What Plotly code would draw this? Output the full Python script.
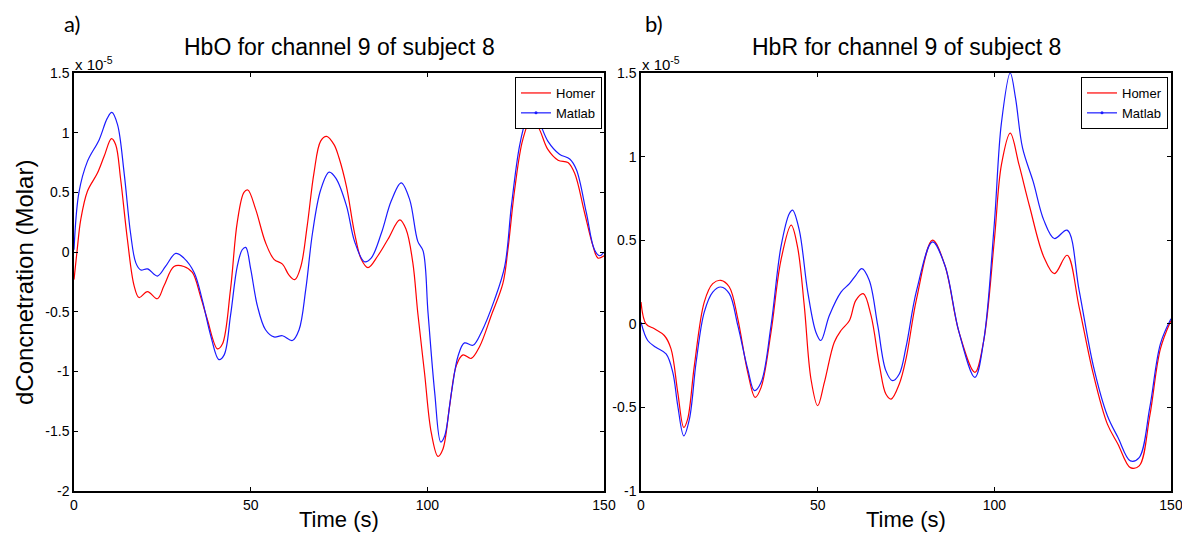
import plotly.graph_objects as go

# ---------------- data (values in units of 1e-5 Molar) ----------------
t_hbo_homer = [0, 0.9, 1.9, 3.8, 6.6, 8.5, 10.6, 11.8, 13.2, 15.1, 17, 18.4, 20.8, 23.6, 25.5, 28.3,
               31.1, 33.5, 35.8, 37.7, 40.6, 42, 44.3, 46.2, 48.1, 49.2, 51.4, 54.2, 56.6, 59, 60.8,
               62.5, 64.2, 66, 67.9, 69.8, 71.5, 73.6, 75, 77.1, 79.4, 81.3, 83.2, 86, 88.9, 92.2,
               94, 95.9, 97.3, 99.2, 101.1, 103, 104.4, 106.3, 108.2, 110.1, 112.4, 114.8, 118.1,
               121.4, 122.8, 124.7, 127, 129.2, 131.3, 134.1, 137, 139.8, 141.7, 144.5, 146.9,
               148.3, 150]
hbo_homer = [-0.23, 0.02, 0.27, 0.51, 0.66, 0.80, 0.95, 0.90, 0.61, 0.11, -0.28, -0.38, -0.33, -0.39,
             -0.28, -0.12, -0.12, -0.17, -0.37, -0.56, -0.81, -0.77, -0.31, 0.25, 0.50, 0.52, 0.36,
             0.08, -0.06, -0.10, -0.19, -0.23, -0.12, 0.22, 0.66, 0.93, 0.97, 0.90, 0.79, 0.55, 0.16,
             -0.06, -0.13, -0.03, 0.11, 0.27, 0.19, -0.09, -0.51, -1.01, -1.51, -1.71, -1.65, -1.29,
             -0.95, -0.86, -0.89, -0.79, -0.53, -0.26, 0.02, 0.52, 0.94, 1.10, 1.05, 0.86, 0.77,
             0.75, 0.66, 0.33, 0.05, -0.05, -0.03]

t_hbo_matlab = [0, 1.4, 3.8, 7.1, 9.4, 10.7, 12.3, 14.2, 16, 17.5, 18.9, 20.8, 23.6, 25.9, 28.8, 31.1,
                34, 36.3, 38.7, 41, 42.5, 44.3, 46.2, 47.6, 48.6, 50, 51.9, 54.2, 56.6, 59, 61.8,
                63.7, 65.6, 67.5, 69.8, 72.2, 74.1, 77.1, 79.4, 82.2, 84.1, 87, 89.8, 92.6, 95,
                97.3, 98.8, 100.2, 102.1, 103.8, 104.9, 106.8, 108.7, 110.5, 112.9, 115.3, 119,
                121.9, 123.8, 126.1, 128, 129.4, 131.3, 134.1, 137.4, 140.3, 142.2, 145, 147.3,
                148.8, 150]
hbo_matlab = [0.02, 0.50, 0.76, 0.94, 1.12, 1.17, 1.07, 0.66, 0.16, -0.09, -0.15, -0.14, -0.20, -0.12,
              -0.01, -0.05, -0.17, -0.40, -0.70, -0.90, -0.86, -0.53, -0.12, 0.02, 0.04, -0.14, -0.45,
              -0.65, -0.71, -0.70, -0.74, -0.65, -0.31, 0.16, 0.52, 0.67, 0.62, 0.39, 0.09, -0.08,
              -0.05, 0.16, 0.43, 0.58, 0.44, 0.09, 0.01, -0.51, -1.18, -1.59, -1.54, -1.18, -0.87,
              -0.76, -0.78, -0.67, -0.40, -0.12, 0.39, 0.89, 1.11, 1.17, 1.11, 0.93, 0.82, 0.78,
              0.69, 0.33, 0.02, -0.03, 0.00]

t_hbr_homer = [0, 1.4, 3.8, 6.6, 8.5, 10.4, 12.1, 13.2, 15.1, 17.9, 20.3, 22.6, 25, 27.4, 30.2, 32.3,
               34, 36.8, 39.6, 42.5, 44.3, 46.2, 48.1, 50, 51.9, 54.7, 56.6, 59, 60.8, 62.9, 65.1,
               67.5, 69.3, 70.8, 73.1, 75, 78, 82.5, 86, 90, 94.5, 97, 100, 102, 104.5, 107, 110,
               114, 117, 120.6, 124, 128, 132, 135, 138.5, 141, 144, 147, 150]
hbr_homer = [0.13, 0.0, -0.03, -0.07, -0.15, -0.41, -0.62, -0.57, -0.25, 0.13, 0.24, 0.26, 0.22, 0.03,
             -0.29, -0.44, -0.38, -0.05, 0.38, 0.59, 0.46, 0.11, -0.33, -0.49, -0.35, -0.11, -0.04,
             0.02, 0.14, 0.18, 0.05, -0.25, -0.42, -0.45, -0.36, -0.21, 0.15, 0.50, 0.35, -0.05,
             -0.29, -0.10, 0.50, 0.95, 1.14, 0.95, 0.70, 0.40, 0.30, 0.41, 0.10, -0.30, -0.60,
             -0.72, -0.86, -0.85, -0.55, -0.15, 0.02]

t_hbr_matlab = [0, 1.9, 4.2, 7.1, 9, 10.4, 12.1, 13.7, 15.6, 17.9, 20.3, 22.6, 25, 27.4, 30.2, 32.1,
                34, 36.8, 39.6, 42, 42.9, 44.8, 47.2, 49.5, 50.9, 53.3, 56.6, 59, 60.8, 62.5, 64.6,
                67, 69.3, 71.2, 73.1, 75, 78, 82.5, 86, 90, 94.5, 97, 100, 102, 104.5, 106, 108,
                111, 114, 117, 120.6, 124, 128, 132, 135, 138.5, 141, 144, 147, 150]
hbr_matlab = [0.01, -0.10, -0.14, -0.18, -0.29, -0.49, -0.67, -0.57, -0.23, 0.07, 0.19, 0.22, 0.18,
              -0.01, -0.27, -0.40, -0.35, -0.01, 0.46, 0.66, 0.68, 0.56, 0.19, -0.05, -0.10, 0.05,
              0.19, 0.24, 0.29, 0.33, 0.26, -0.01, -0.28, -0.34, -0.30, -0.14, 0.20, 0.49, 0.35,
              -0.05, -0.32, -0.10, 0.60, 1.20, 1.50, 1.35, 1.05, 0.85, 0.62, 0.51, 0.56, 0.20,
              -0.25, -0.55, -0.68, -0.82, -0.80, -0.50, -0.12, 0.03]

x_ticks = [0, 50, 100, 150]
x_ticklabels = ["0", "50", "100", "150"]
hbo_yticks = [-2, -1.5, -1, -0.5, 0, 0.5, 1, 1.5]
hbo_yticklabels = ["-2", "-1.5", "-1", "-0.5", "0", "0.5", "1", "1.5"]
hbr_yticks = [-1, -0.5, 0, 0.5, 1, 1.5]
hbr_yticklabels = ["-1", "-0.5", "0", "0.5", "1", "1.5"]

series_names = ["Homer", "Matlab"]
titles = ["HbO for channel 9 of subject 8", "HbR for channel 9 of subject 8"]
panel_labels = ["a)", "b)"]

# ---------------- figure ----------------
# The page body keeps its default 8px margin, so the figure is drawn 8px in
# from the top-left of the window; size it so it ends at the window edge.
OFF = 8
W, H = 1190 - OFF, 535 - OFF
FONT = "Liberation Sans, Arial, sans-serif"
RED = "#ff0000"
BLUE = "#1a1aff"


def px_x(p):
    """window pixel x -> paper fraction"""
    return (p - OFF) / W


def px_y(p):
    """window pixel y (from top) -> paper fraction"""
    return 1 - (p - OFF) / H


fig = go.Figure()

panels = [
    (t_hbo_homer, hbo_homer, t_hbo_matlab, hbo_matlab, "x", "y", "legend"),
    (t_hbr_homer, hbr_homer, t_hbr_matlab, hbr_matlab, "x2", "y2", "legend2"),
]
for th, vh, tm, vm, xa, ya, lg in panels:
    fig.add_trace(go.Scatter(x=th, y=vh, mode="lines", line=dict(color=RED, width=1.2, shape="spline", smoothing=1.0),
                             xaxis=xa, yaxis=ya, showlegend=False, hoverinfo="skip"))
    fig.add_trace(go.Scatter(x=tm, y=vm, mode="lines", line=dict(color=BLUE, width=1.2, shape="spline", smoothing=1.0),
                             xaxis=xa, yaxis=ya, showlegend=False, hoverinfo="skip"))
    # legend entries
    fig.add_trace(go.Scatter(x=[None], y=[None], mode="lines", name=series_names[0],
                             line=dict(color=RED, width=1.2), xaxis=xa, yaxis=ya, legend=lg))
    fig.add_trace(go.Scatter(x=[None], y=[None], mode="lines+markers", name=series_names[1],
                             line=dict(color=BLUE, width=1.2), marker=dict(color=BLUE, size=3),
                             xaxis=xa, yaxis=ya, legend=lg))

axis_common = dict(
    showline=True, linecolor="black", linewidth=1.5, mirror="allticks",
    ticks="inside", ticklen=4, tickcolor="black", tickwidth=1,
    showgrid=False, zeroline=False, automargin=False,
    tickfont=dict(family=FONT, size=14, color="black"),
)

legend_common = dict(xanchor="right", yanchor="top",
                     bordercolor="black", borderwidth=1, bgcolor="white",
                     font=dict(family=FONT, size=13, color="black"),
                     tracegroupgap=0, itemwidth=30)

y_top, y_bot = 73, 491
fig.update_layout(
    width=W, height=H,
    margin=dict(l=0, r=0, t=0, b=0, pad=0, autoexpand=False),
    paper_bgcolor="white", plot_bgcolor="white",
    xaxis=dict(domain=[px_x(74), px_x(604)], range=[0, 150], tickvals=x_ticks, ticktext=x_ticklabels,
               anchor="y", **axis_common),
    yaxis=dict(domain=[px_y(y_bot), px_y(y_top)], range=[-2, 1.5], tickvals=hbo_yticks,
               ticktext=hbo_yticklabels, anchor="x", **axis_common),
    xaxis2=dict(domain=[px_x(641), px_x(1171)], range=[0, 150], tickvals=x_ticks, ticktext=x_ticklabels,
                anchor="y2", **axis_common),
    yaxis2=dict(domain=[px_y(y_bot), px_y(y_top)], range=[-1, 1.5], tickvals=hbr_yticks,
                ticktext=hbr_yticklabels, anchor="x2", **axis_common),
    legend=dict(x=px_x(602), y=px_y(77), **legend_common),
    legend2=dict(x=px_x(1168), y=px_y(77), **legend_common),
    showlegend=True,
)

annotations = []
# titles
for cx, txt in [(339, titles[0]), (906, titles[1])]:
    annotations.append(dict(x=px_x(cx), y=px_y(47), xref="paper", yref="paper", text=txt, showarrow=False,
                            xanchor="center", yanchor="middle", font=dict(family=FONT, size=23, color="black")))
# panel labels
for lx, txt in [(62, panel_labels[0]), (643, panel_labels[1])]:
    annotations.append(dict(x=px_x(lx), y=px_y(8), xref="paper", yref="paper", text=txt, showarrow=False,
                            xanchor="left", yanchor="top", font=dict(family="Lato, Open Sans, sans-serif", size=22, color="black")))
# exponent labels
for ex in [73, 640]:
    annotations.append(dict(x=px_x(ex), y=px_y(63), xref="paper", yref="paper", text="x 10<sup>-5</sup>",
                            showarrow=False, xanchor="left", yanchor="middle",
                            font=dict(family=FONT, size=15, color="black")))
# x axis titles
for cx in [339, 906]:
    annotations.append(dict(x=px_x(cx), y=px_y(519), xref="paper", yref="paper", text="Time (s)",
                            showarrow=False, xanchor="center", yanchor="middle",
                            font=dict(family=FONT, size=22, color="black")))
# y axis title
annotations.append(dict(x=px_x(24), y=px_y(283), xref="paper", yref="paper", text="dConcnetration (Molar)",
                        showarrow=False, textangle=-90, xanchor="center", yanchor="middle",
                        font=dict(family=FONT, size=24, color="black")))
fig.update_layout(annotations=annotations)

fig.write_html("out.html")
